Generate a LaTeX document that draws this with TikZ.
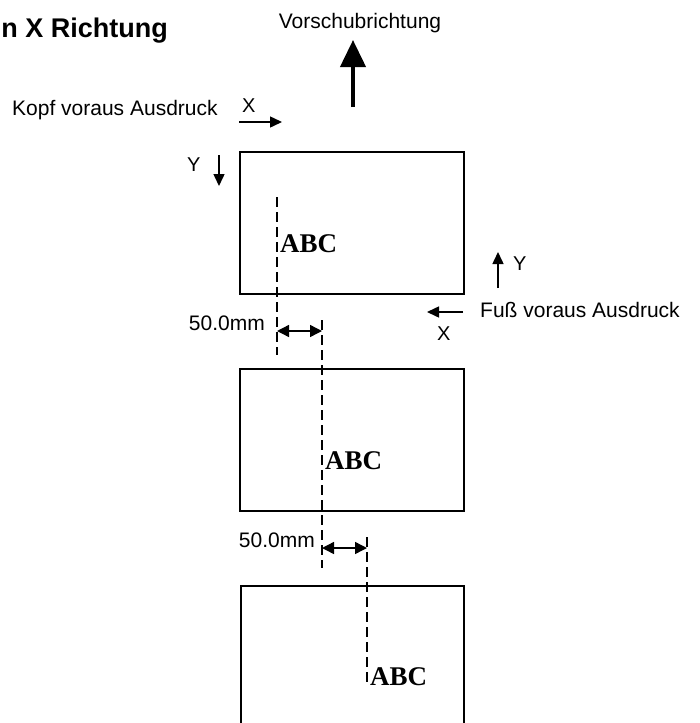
\documentclass[tikz,border=0pt]{standalone}
\usepackage{fontspec}
\setmainfont{Liberation Sans}
\newfontfamily\abcfont{Liberation Serif}
\usetikzlibrary{arrows.meta}
\begin{document}
\begin{tikzpicture}[x=1pt,y=-1pt,
  lbl/.style={inner sep=0pt,font=\fontsize{21}{25}\selectfont},
  axl/.style={inner sep=0pt,anchor=base west,font=\fontsize{20}{24}\selectfont},
  sheet/.style={draw,line width=2.3pt},
  guide/.style={line width=1.5pt,dash pattern=on 10pt off 5pt},
  dim/.style={line width=1.4pt,{Triangle[length=12pt,width=12pt]}-{Triangle[length=12pt,width=12pt]}},
  dirarrow/.style={line width=1.5pt,-{Triangle[length=12pt,width=11pt]}},
  abc/.style={inner sep=0pt,anchor=west,font=\abcfont\bfseries\fontsize{27}{30}\selectfont}]
\useasboundingbox (0,0) rectangle (699,723);
\clip (0,0) rectangle (699,723);

% title and feed direction
\node[inner sep=0pt,anchor=base east,font=\bfseries\fontsize{27}{31}\selectfont] (title) at (168,37) {n X Richtung};
\node[lbl,anchor=base] (vor) at (360,28) {Vorschubrichtung};
\coordinate (vs) at (353,107);
\coordinate (vt) at (353,40);
\draw[line width=4pt,-{Triangle[length=27pt,width=25pt]}] (vs) -- (vt);

% head-first labels
\node[lbl,anchor=base west] (kopf) at (12,115) {Kopf voraus Ausdruck};
\node[axl] (kx) at (242,112) {X};
\coordinate (kxs) at (239,122);
\coordinate (kxe) at (282,122);
\draw[dirarrow] (kxs) -- (kxe);
\node[axl] (ky) at (187,171) {Y};
\coordinate (kys) at (219,155);
\coordinate (kye) at (219,186);
\draw[dirarrow] (kys) -- (kye);

% foot-first labels
\node[lbl,anchor=base west] (fuss) at (480,317) {Fuß voraus Ausdruck};
\coordinate (fxs) at (463,312);
\coordinate (fxe) at (427,312);
\draw[dirarrow] (fxs) -- (fxe);
\node[axl] (fx) at (437,340) {X};
\coordinate (fys) at (498,288);
\coordinate (fye) at (498,252);
\draw[dirarrow] (fys) -- (fye);
\node[axl] (fy) at (513,270) {Y};

% sheets
\draw[sheet] (240,152) rectangle (464,294);
\draw[sheet] (240,369) rectangle (464,511);
\draw[sheet] (241,586) rectangle (464,760);

% sheet 1
\coordinate (g1a) at (277,197);
\coordinate (g1b) at (277,355);
\draw[guide] (g1a) -- (g1b);
\node[abc] (abc1) at (280,244) {ABC};

% offset 1
\node[lbl,anchor=base east] (mm1) at (265,330) {50.0mm};
\coordinate (d1a) at (277,331);
\coordinate (d1b) at (322,331);
\draw[dim] (d1a) -- (d1b);

% sheet 2
\coordinate (g2a) at (322,320);
\coordinate (g2b) at (322,568);
\draw[guide] (g2a) -- (g2b);
\node[abc] (abc2) at (325,461) {ABC};

% offset 2
\node[lbl,anchor=base east] (mm2) at (315,547) {50.0mm};
\coordinate (d2a) at (322,548);
\coordinate (d2b) at (367,548);
\draw[dim] (d2a) -- (d2b);

% sheet 3
\coordinate (g3a) at (367,537);
\coordinate (g3b) at (367,685);
\draw[guide] (g3a) -- (g3b);
\node[abc] (abc3) at (370,677) {ABC};
\end{tikzpicture}
\end{document}
